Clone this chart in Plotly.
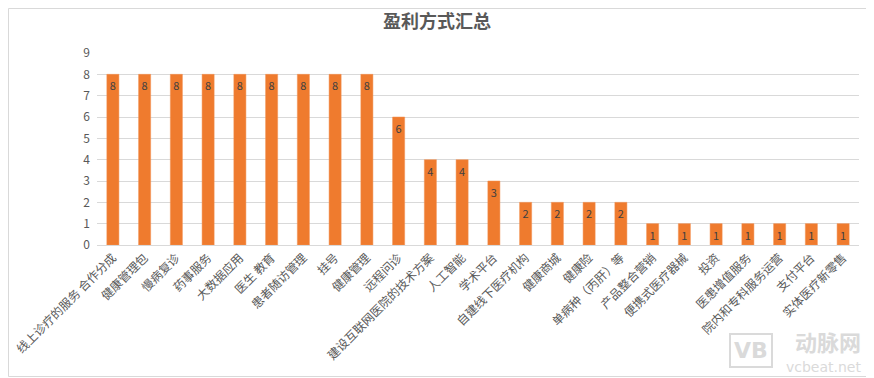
import plotly.graph_objects as go

categories = ["线上诊疗的服务 合作分成", "健康管理包", "慢病复诊", "药事服务", "大数据应用",
              "医生 教育", "患者随访管理", "挂号", "健康管理", "远程问诊",
              "建设互联网医院的技术方案", "人工智能", "学术平台", "自建线下医疗机构", "健康商城",
              "健康险", "单病种（丙肝）等", "产品整合营销", "便携式医疗器械", "投资",
              "医患增值服务", "院内和专科服务运营", "支付平台", "实体医疗新零售"]
values = [8, 8, 8, 8, 8, 8, 8, 8, 8, 6, 4, 4, 3, 2, 2, 2, 2, 1, 1, 1, 1, 1, 1, 1]
y_ticks = list(range(0, 10))

font_family = "Noto Sans CJK SC, Microsoft YaHei, sans-serif"

# page body has an 8px default margin; compensate so the chart fills the 874x378 window
W, H = 866, 370
ML, MR, MT, MB = 89, 15, 45, 133
PW, PH = W - ML - MR, H - MT - MB

fig = go.Figure(go.Bar(
    x=categories,
    y=values,
    marker=dict(color="#EF7B2E", line=dict(color="#F29150", width=0.5)),
    text=[str(v) for v in values],
    textposition="inside",
    insidetextanchor="end",
    textangle=0,
    constraintext="none",
    textfont=dict(size=11, color="#404040", family=font_family),
    width=0.38,
))

fig.update_layout(
    width=W, height=H,
    margin=dict(l=ML, r=MR, t=MT, b=MB, autoexpand=False),
    paper_bgcolor="white",
    plot_bgcolor="white",
    showlegend=False,
    title=dict(text="<b>盈利方式汇总</b>", x=(437 - 8) / W, xanchor="center",
               y=1 - (22 - 8) / H, yanchor="middle",
               font=dict(size=18, color="#595959", family=font_family)),
    font=dict(family=font_family, color="#595959"),
)

fig.update_xaxes(
    tickangle=-45,
    tickfont=dict(size=12, color="#595959", family=font_family),
    showline=True, linecolor="#D9D9D9", linewidth=1,
    ticks="", showgrid=False,
    range=[-0.5, len(categories) - 0.5],
    automargin=False,
)
fig.update_yaxes(
    range=[0, 9],
    tickvals=y_ticks,
    tickfont=dict(size=12, color="#595959", family=font_family),
    showgrid=True, gridcolor="#D9D9D9", gridwidth=1,
    zeroline=False, showline=False, ticks="",
    ticklabelstandoff=6,
    automargin=False,
)

# outer frame
fig.add_shape(type="rect", xref="paper", yref="paper",
              x0=-(ML - 0.5) / PW, x1=1 + (MR - 1.5) / PW,
              y0=-(MB - 1.5) / PH, y1=1 + (MT - 0.5) / PH,
              line=dict(color="#D9D9D9", width=1), fillcolor="rgba(0,0,0,0)")

# watermark
fig.add_annotation(text="<b>动脉网</b>", xref="paper", yref="paper",
                   x=1 + 4 / PW, y=-(341 - 8 - MT - PH) / PH, xanchor="right", yanchor="middle",
                   showarrow=False, font=dict(size=22, color="#DADADA", family=font_family))
fig.add_annotation(text="vcbeat.net", xref="paper", yref="paper",
                   x=1 + 4 / PW, y=-(367 - 8 - MT - PH) / PH, xanchor="right", yanchor="middle",
                   showarrow=False, font=dict(size=14, color="#DADADA", family="DejaVu Sans"))
fig.add_annotation(text="<b>VB</b>", xref="paper", yref="paper",
                   x=(751 - 8 - ML) / PW, y=-(350 - 8 - MT - PH) / PH, xanchor="center", yanchor="middle",
                   showarrow=False, font=dict(size=22, color="#DADADA", family="DejaVu Sans"),
                   bordercolor="#DADADA", borderwidth=2, borderpad=3)

fig.write_html("out.html")
